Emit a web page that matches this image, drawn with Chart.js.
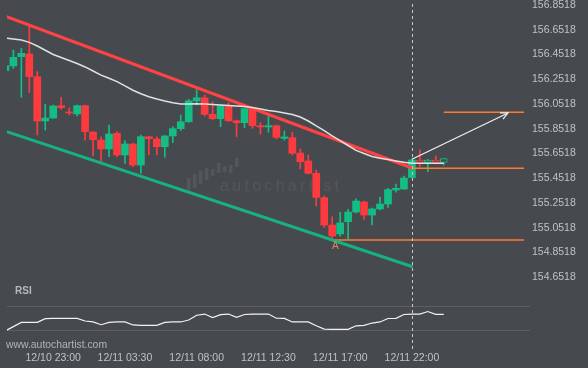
<!DOCTYPE html>
<html>
<head>
<meta charset="utf-8">
<script src="https://cdn.jsdelivr.net/npm/chart.js@4.4.0/dist/chart.umd.min.js"></script>
<style>
html, body { margin: 0; padding: 0; background: #464a4f; }
canvas { display: block; }
</style>
</head>
<body>
<canvas id="chart" width="588" height="368"></canvas>
<script>
// 30 minute candles, index 0 = 12/10 20:00
var openV = [156.321,156.359,156.434,156.456,156.272,155.914,155.938,156.038,155.987,155.971,
    156.038,155.825,155.760,155.688,155.815,155.639,155.728,155.558,155.787,155.769,
    155.706,155.793,155.852,155.908,156.076,156.102,155.968,155.933,156.038,155.916,
    155.900,156.014,155.876,155.866,155.876,155.774,155.779,155.655,155.591,155.491,
    155.294,155.073,155.001,155.100,155.178,155.259,155.154,155.203,155.243,155.356,
    155.364,155.457,155.599,155.579,155.599,155.580];
var highV = [156.361,156.488,156.502,156.690,156.313,156.049,156.043,156.106,156.019,156.043,
    156.043,155.828,155.787,155.882,155.828,155.755,155.736,155.801,155.793,155.787,
    155.797,155.868,155.963,156.088,156.167,156.124,156.070,156.043,156.062,155.922,
    156.019,156.019,155.900,155.957,155.882,155.833,155.823,155.688,155.639,155.518,
    155.308,155.140,155.176,155.200,155.284,155.267,155.211,155.300,155.370,155.405,
    155.469,155.607,155.680,155.603,155.631,155.611];
var lowV = [156.318,156.340,156.106,156.146,155.801,155.841,155.934,156.009,155.963,155.955,
    155.760,155.631,155.580,155.625,155.625,155.572,155.545,155.491,155.639,155.639,
    155.621,155.739,155.837,155.902,156.043,155.955,155.926,155.868,155.910,155.787,
    155.860,155.855,155.807,155.823,155.769,155.760,155.639,155.526,155.486,155.227,
    155.055,154.966,154.984,154.960,155.170,155.119,155.073,155.195,155.216,155.338,
    155.360,155.453,155.545,155.504,155.579,155.558];
var closeV = [156.361,156.429,156.461,156.272,155.914,155.938,156.035,156.022,155.979,156.038,
    155.828,155.763,155.688,155.809,155.639,155.728,155.558,155.787,155.771,155.706,
    155.793,155.852,155.908,156.077,156.102,155.968,155.933,156.038,155.916,155.900,
    156.014,155.876,155.866,155.876,155.782,155.785,155.653,155.585,155.491,155.297,
    155.073,154.984,155.090,155.178,155.267,155.154,155.203,155.243,155.359,155.370,
    155.453,155.599,155.579,155.599,155.579,155.611];
var maV = [156.585,156.577,156.569,156.550,156.520,156.486,156.452,156.427,156.403,156.379,
    156.351,156.318,156.285,156.260,156.232,156.198,156.163,156.134,156.110,156.092,
    156.076,156.062,156.052,156.052,156.054,156.052,156.047,156.043,156.039,156.035,
    156.031,156.023,156.011,155.999,155.991,155.979,155.967,155.946,155.914,155.874,
    155.837,155.793,155.756,155.716,155.676,155.651,155.627,155.613,155.603,155.591,
    155.580,155.572,155.572,155.572,155.572,155.572];
var rsiV = [39.3,42.8,46.3,46.4,46.4,49.5,49.7,49.7,49.7,49.7,
    47.5,46.7,44.4,46.3,46.7,46.7,44.2,43.9,43.9,43.9,
    46.4,46.7,46.7,48.3,52.3,53.3,50.3,52.8,53.3,50.6,
    52.9,53.3,53.3,53.3,49.8,49.7,46.7,46.7,46.7,43.5,
    40.8,40.6,40.6,40.6,43.5,43.9,45.8,46.7,49.6,49.7,
    52.9,53.3,53.3,55.4,53.1,53.1];

var xTickIdx = [6, 15, 24, 33, 42, 51];
var xTickText = ['12/10 23:00', '12/11 03:30', '12/11 08:00', '12/11 12:30', '12/11 17:00', '12/11 22:00'];
var priceTicks = [156.8518, 156.6518, 156.4518, 156.2518, 156.0518, 155.8518,
    155.6518, 155.4518, 155.2518, 155.0518, 154.8518, 154.6518];
var rsiTicks = [40, 60];

// channel lines, levels and projection arrow
var chanX = [0.16, 51.1];
var resistY = [156.757, 155.532];
var supportY = [155.828, 154.736];
var levelTop = 155.984, levelTopFrom = 55;
var levelBreak = 155.532, levelBreakFrom = 51;
var levelLow = 154.952, levelLowFrom = 40.95;
var levelEnd = 65.07;
var arrowX = [51, 63.06];
var arrowY = [155.605, 155.979];
var breakIdx = 51;
var liveFrom = 52;

var bgColor = '#464a4f';
var upColor = '#13be85';
var downColor = '#fd3a3e';
var tickColor = '#bfc2c5';
var tickFont = { family: '"Liberation Sans", Arial, sans-serif', size: 10.5 };

function candleColor(i) {
    return closeV[i] >= openV[i] ? upColor : downColor;
}

function seg(x0, x1, y0, y1) {
    return [{ x: x0, y: y0 }, { x: x1, y: y1 }];
}

var wickData = openV.map(function (o, i) { return { x: i, y: [lowV[i], highV[i]] }; });
var bodyData = openV.map(function (o, i) { return { x: i, y: [o, closeV[i]] }; });
var maData = maV.map(function (v, i) { return { x: i, y: v }; });
var rsiData = rsiV.map(function (v, i) { return { x: i, y: v }; });

function lineSet(data, color, width, axis) {
    return {
        type: 'line', data: data, borderColor: color, borderWidth: width,
        pointRadius: 0, tension: 0, fill: false, yAxisID: axis || 'y', order: 0
    };
}

var overlay = {
    id: 'overlay',
    beforeDatasetsDraw: function (chart) {
        var ctx = chart.ctx;
        ctx.save();
        // watermark
        ctx.fillStyle = 'rgba(255,255,255,0.07)';
        var bars = [[187, 178, 190], [193, 174, 188], [199, 171, 184], [205, 168, 180], [211, 169, 176],
            [217, 163, 173], [223, 166, 172], [229, 165, 173], [235, 158, 167]];
        bars.forEach(function (b) { ctx.fillRect(b[0], b[1], 3.5, b[2] - b[1]); });
        ctx.font = '16px "Liberation Sans", Arial, sans-serif';
        ctx.letterSpacing = '3.3px';
        ctx.textBaseline = 'alphabetic';
        ctx.fillText('autochartist', 220, 190.5);
        ctx.restore();
    },
    afterDatasetsDraw: function (chart) {
        var ctx = chart.ctx, xs = chart.scales.x, ys = chart.scales.y, area = chart.chartArea;
        ctx.save();
        // break marker
        var bx = Math.round(xs.getPixelForValue(breakIdx)) + 0.5;
        ctx.strokeStyle = '#c8c8c8';
        ctx.lineWidth = 1;
        ctx.setLineDash([3, 3]);
        ctx.beginPath();
        ctx.moveTo(bx, area.top + 4);
        ctx.lineTo(bx, area.bottom + 2);
        ctx.stroke();
        ctx.setLineDash([]);

        // arrow head
        var x0 = xs.getPixelForValue(arrowX[0]), y0 = ys.getPixelForValue(arrowY[0]);
        var x1 = xs.getPixelForValue(arrowX[1]), y1 = ys.getPixelForValue(arrowY[1]);
        var ang = Math.atan2(y1 - y0, x1 - x0);
        ctx.strokeStyle = '#f0f0f0';
        ctx.lineWidth = 1.2;
        ctx.beginPath();
        ctx.moveTo(x1 - 8 * Math.cos(ang - 0.45), y1 - 8 * Math.sin(ang - 0.45));
        ctx.lineTo(x1, y1);
        ctx.lineTo(x1 - 8 * Math.cos(ang + 0.45), y1 - 8 * Math.sin(ang + 0.45));
        ctx.stroke();

        // pattern point label
        ctx.fillStyle = '#e5884c';
        ctx.font = '10px "Liberation Sans", Arial, sans-serif';
        ctx.textAlign = 'center';
        ctx.textBaseline = 'middle';
        ctx.fillText('A', xs.getPixelForValue(41.4), ys.getPixelForValue(levelLow) + 6.5);
        ctx.restore();
    },
    afterDraw: function (chart) {
        var ctx = chart.ctx;
        ctx.save();
        ctx.textBaseline = 'middle';
        ctx.fillStyle = '#b4b8bc';
        ctx.font = 'bold 10px "Liberation Sans", Arial, sans-serif';
        ctx.fillText('RSI', 15, 291);
        ctx.fillStyle = '#b0b3b6';
        ctx.font = '10.4px "Liberation Sans", Arial, sans-serif';
        ctx.fillText('www.autochartist.com', 6, 345);
        ctx.restore();
    }
};

var chart = new Chart(document.getElementById('chart'), {
    type: 'bar',
    data: {
        datasets: [
            lineSet(maData, 'rgba(232,232,232,0.95)', 1.5),
            lineSet(seg(chanX[0], chanX[1], resistY[0], resistY[1]), '#ff4343', 3),
            lineSet(seg(chanX[0], chanX[1], supportY[0], supportY[1]), '#16b27f', 3),
            lineSet(seg(levelTopFrom, levelEnd, levelTop, levelTop), '#ff7b2c', 1.5),
            lineSet(seg(levelBreakFrom, levelEnd, levelBreak, levelBreak), '#ff7b2c', 1.5),
            lineSet(seg(levelLowFrom, levelEnd, levelLow, levelLow), '#ff7b2c', 1.5),
            lineSet(seg(arrowX[0], arrowX[1], arrowY[0], arrowY[1]), '#f0f0f0', 1.2),
            lineSet(rsiData, '#f2f2f2', 1.2, 'rsi'),
            {
                label: 'body', data: bodyData, order: 1, grouped: false,
                barThickness: 7, minBarLength: 1, borderSkipped: false,
                backgroundColor: function (c) { return c.dataIndex >= liveFrom ? bgColor : candleColor(c.dataIndex); },
                borderColor: function (c) { return candleColor(c.dataIndex); },
                borderWidth: function (c) { return c.dataIndex >= liveFrom ? 1 : 0; }
            },
            {
                label: 'wick', data: wickData, order: 2, grouped: false,
                barThickness: 1, minBarLength: 1,
                backgroundColor: function (c) { return candleColor(c.dataIndex); }
            }
        ]
    },
    options: {
        responsive: false,
        animation: false,
        devicePixelRatio: 1,
        layout: { padding: { left: 7, top: 0, right: 0, bottom: 0 } },
        plugins: { legend: { display: false }, tooltip: { enabled: false } },
        scales: {
            x: {
                type: 'linear', min: 0.2, max: 65.82, offset: false,
                grid: { display: false, drawTicks: false }, border: { display: false },
                afterBuildTicks: function (s) { s.ticks = xTickIdx.map(function (v) { return { value: v }; }); },
                afterFit: function (s) { s.height = 20; s.paddingLeft = 0; s.paddingRight = 0; },
                ticks: {
                    color: tickColor, font: tickFont, padding: 4, maxRotation: 0, autoSkip: false,
                    callback: function (v) { var j = xTickIdx.indexOf(v); return j < 0 ? '' : xTickText[j]; }
                }
            },
            y: {
                type: 'linear', position: 'right', weight: 1, min: 154.0790, max: 156.8922,
                grid: { display: false, drawTicks: false }, border: { display: false },
                afterBuildTicks: function (s) { s.ticks = priceTicks.map(function (v) { return { value: v }; }); },
                afterFit: function (s) { s.width = 58; s.paddingTop = 0; s.paddingBottom = 0; },
                ticks: {
                    color: tickColor, font: tickFont, padding: 2,
                    callback: function (v) { return v.toFixed(4); }
                }
            },
            rsi: {
                type: 'linear', position: 'right', weight: 0, min: 25, max: 315,
                grid: { color: '#5b5f64', drawTicks: false, lineWidth: 1 }, border: { display: false },
                afterBuildTicks: function (s) { s.ticks = rsiTicks.map(function (v) { return { value: v }; }); },
                afterFit: function (s) { s.width = 0; s.paddingTop = 0; s.paddingBottom = 0; },
                ticks: { color: tickColor, font: tickFont, padding: 2 }
            }
        }
    },
    plugins: [overlay]
});
</script>
</body>
</html>
